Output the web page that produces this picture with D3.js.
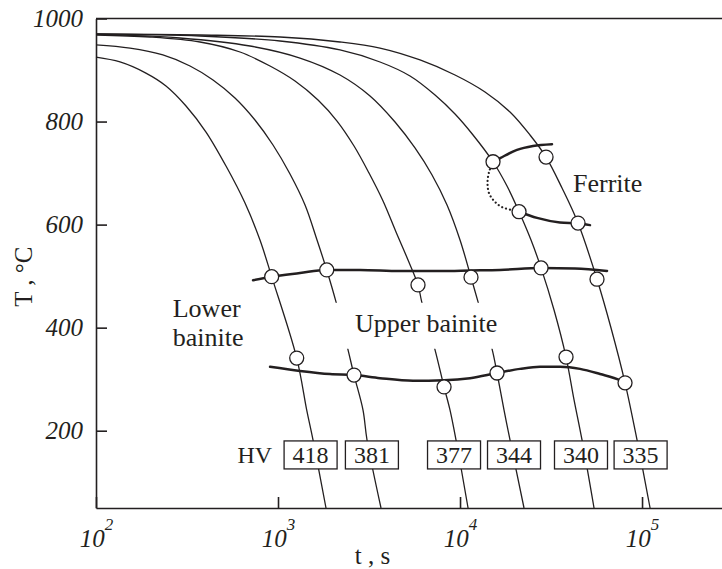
<!DOCTYPE html>
<html>
<head>
<meta charset="utf-8">
<script src="https://cdn.jsdelivr.net/npm/d3@7/dist/d3.min.js"></script>
<style>
    body { margin: 0; background: #fff; }
    svg { display: block; }
    svg text { font-family: "Liberation Serif", "Times New Roman", serif; }
    .axis text { font-size: 25px; font-style: italic; fill: #231f20; }
    .axis path, .axis line { stroke: #231f20; stroke-width: 1.6; }
</style>
</head>
<body>
<div id="chart"></div>
<script>
// Cooling curves: [time (s), temperature (°C)]
const curveA = [[100, 925], [135.5, 915.6], [188, 894], [242.4, 869], [312.3, 830.2], [402.2, 779.7], [518, 713.7], [658.7, 641.9], [796, 570], [923, 499], [1267, 341], [1438, 240], [1557, 182], [1835, 50]];
const curveB = [[100, 949], [153.8, 942.7], [233, 929.2], [328.5, 907.8], [439.4, 880.6], [580.3, 845.7], [747.3, 803], [938.6, 754.5], [1164, 698.2], [1407.5, 638], [1638, 570.1], [1852, 512], [2083, 450], [2425, 357], [2616, 308], [2931, 240], [3083, 182], [3681, 50]];
const curveC = [[100, 968], [198, 964.1], [372.8, 954.4], [618.2, 935], [903.6, 907.8], [1240, 878.7], [1659, 841.8], [2110, 801], [2616, 752.5], [3162, 700.1], [3776, 645.8], [4450, 585.6], [5180, 531.3], [5877, 483], [6160, 450], [7290, 357], [8170, 285], [8813, 240], [9506, 182], [11070, 50]];
const curveD = [[100, 969], [289.3, 962.2], [702, 946.6], [1321, 923.3], [2191, 890.3], [3203, 849.6], [4395, 799.1], [5657, 748.7], [7019, 696.3], [8485, 638], [10000, 570.1], [11490, 498], [12560, 450], [14990, 359], [15970, 312], [17450, 240], [18820, 182], [22470, 50]];
const curveE = [[100, 970], [372.8, 966], [1026, 956.3], [2191, 938.9], [3634, 915.6], [5313, 888.4], [7290, 851.5], [9387, 814.6], [11790, 773.9], [15180, 722], [18120, 674.9], [21100, 625], [24550, 570.1], [27870, 516], [32850, 434.3], [38230, 343], [42310, 260], [46810, 182], [54480, 50]];
const curveF = [[100, 970], [372.8, 968], [1026, 964.1], [2191, 954.4], [3634, 942.7], [6029, 919.5], [9387, 890.3], [13720, 857.3], [18820, 818.5], [24240, 773.9], [29690, 731], [36340, 671], [44500, 603], [56570, 494], [67560, 399.3], [80650, 293], [93870, 182], [110700, 50]];
const coolingCurves = [curveA, curveB, curveC, curveD, curveE, curveF];

// Transformation lines
const ferriteStart = [[15180, 722], [16590, 729], [20570, 745], [25180, 752.5], [32020, 756]];
const ferriteDotted = [[15180, 722], [14430, 702], [14160, 681], [14430, 661], [15380, 646], [17010, 634], [21100, 625]];
const ferriteFinish = [[21100, 625], [26500, 613], [35400, 604], [44500, 602], [51800, 599]];
const upperBainite = [[729, 492], [927, 499], [1321, 506], [1835, 512], [2821, 512], [4681, 510], [7767, 510], [11490, 511], [16590, 512], [27870, 516], [42840, 515], [64230, 510]];
const lowerBainite = [[904, 324], [1321, 316], [1931, 310], [2616, 308], [3634, 302], [5518, 297], [8170, 298], [11340, 302], [15970, 312], [21370, 320], [27520, 324], [35430, 324], [45640, 320], [58770, 310], [75690, 298], [80650, 293]];

// Measured points (circles)
const ferriteStartPts = [[15180, 722], [29690, 731]];
const ferriteFinishPts = [[21100, 625], [44500, 603]];
const upperBainitePts = [[923, 499], [1852, 512], [5877, 483], [11490, 498], [27870, 516], [56570, 494]];
const lowerBainitePts = [[1267, 341], [2616, 308], [8170, 285], [15970, 312], [38230, 343], [80650, 293]];

// Hardness
const hvValues = [418, 381, 377, 344, 340, 335];
const hvTimes = [1510, 3280, 9270, 19800, 46200, 98200];
const hvLevel = 153;

// Region labels
const regionLabels = [
    { text: "Ferrite", t: 41770, T: 663 },
    { text: "Upper bainite", t: 2649, T: 392, knockout: true },
    { text: "Lower", t: 264, T: 420 },
    { text: "bainite", t: 264, T: 365 }
];

const yTicks = [200, 400, 600, 800, 1000];
const xTicks = [1e2, 1e3, 1e4, 1e5];

function draw() {
    const ink = "#231f20";

    let dimensions = {
        width: 722,
        height: 569,
        margin: { top: 18.5, right: 0, bottom: 61, left: 96 }
    };
    dimensions.containerWidth = dimensions.width - dimensions.margin.left - dimensions.margin.right;
    dimensions.containerHeight = dimensions.height - dimensions.margin.top - dimensions.margin.bottom;

    const svg = d3.select("#chart")
        .append("svg")
        .attr("width", dimensions.width)
        .attr("height", dimensions.height);

    const container = svg.append("g")
        .attr("transform", `translate(${dimensions.margin.left}, ${dimensions.margin.top})`);

    // Scales
    const xScale = d3.scaleLog()
        .domain([1e2, 2.75e5])
        .range([0, dimensions.containerWidth]);

    const yScale = d3.scaleLinear()
        .domain([50, 1000])
        .range([dimensions.containerHeight, 0]);

    // Axes
    const yAxis = d3.axisLeft(yScale)
        .tickValues(yTicks)
        .tickSizeInner(-11)
        .tickSizeOuter(0)
        .tickPadding(13)
        .tickFormat(d3.format("d"));

    container.append("g")
        .classed("axis", true)
        .call(yAxis);

    const xAxis = d3.axisBottom(xScale)
        .tickValues(xTicks)
        .tickSizeInner(-11)
        .tickSizeOuter(0)
        .tickFormat("");

    const xAxisGroup = container.append("g")
        .classed("axis", true)
        .attr("transform", `translate(0, ${dimensions.containerHeight})`)
        .call(xAxis);

    xAxisGroup.selectAll(".tick text")
        .attr("y", 38.7)
        .attr("dy", null)
        .each(function (d) {
            const t = d3.select(this);
            t.append("tspan").text("10");
            t.append("tspan")
                .attr("dy", -16.5)
                .style("font-size", "17px")
                .text(Math.round(Math.log10(d)));
        });

    // top frame line
    container.append("line")
        .attr("x1", 0)
        .attr("x2", dimensions.containerWidth)
        .attr("y1", yScale(1000))
        .attr("y2", yScale(1000))
        .attr("stroke", ink)
        .attr("stroke-width", 1.5);

    // Axis titles
    container.append("text")
        .attr("transform", `translate(${32 - dimensions.margin.left}, ${276.7 - dimensions.margin.top}) rotate(-90)`)
        .attr("text-anchor", "middle")
        .attr("fill", ink)
        .style("font-size", "25px")
        .text("T , °C");

    container.append("text")
        .attr("x", 372.5 - dimensions.margin.left)
        .attr("y", dimensions.containerHeight + 56)
        .attr("text-anchor", "middle")
        .attr("fill", ink)
        .style("font-size", "25px")
        .text("t , s");

    // Cooling curves
    const coolLine = d3.line()
        .x(d => xScale(d[0]))
        .y(d => yScale(d[1]))
        .curve(d3.curveCatmullRom.alpha(0.5));

    container.append("g")
        .selectAll("path")
        .data(coolingCurves)
        .join("path")
        .attr("d", coolLine)
        .attr("fill", "none")
        .attr("stroke", ink)
        .attr("stroke-width", 1.3);

    // Region labels (with white knock-out where the curves are broken)
    const labels = container.append("g");
    regionLabels.forEach(l => {
        const txt = labels.append("text")
            .attr("x", xScale(l.t))
            .attr("y", yScale(l.T))
            .attr("fill", ink)
            .style("font-size", "26px")
            .text(l.text);
        if (l.knockout) {
            const bb = txt.node().getBBox();
            labels.insert("rect", "text")
                .attr("x", bb.x - 23)
                .attr("y", bb.y - 6)
                .attr("width", bb.width + 26)
                .attr("height", bb.height + 17)
                .attr("fill", "#fff");
        }
    });

    // Transformation lines
    const phaseLine = d3.line()
        .x(d => xScale(d[0]))
        .y(d => yScale(d[1]))
        .curve(d3.curveMonotoneX);

    container.append("g")
        .selectAll("path")
        .data([ferriteStart, ferriteFinish, upperBainite, lowerBainite])
        .join("path")
        .attr("d", phaseLine)
        .attr("fill", "none")
        .attr("stroke", ink)
        .attr("stroke-width", 2.5)
        .attr("stroke-linecap", "round");

    const dottedLine = d3.line()
        .x(d => xScale(d[0]))
        .y(d => yScale(d[1]))
        .curve(d3.curveCatmullRom);

    container.append("path")
        .attr("d", dottedLine(ferriteDotted))
        .attr("fill", "none")
        .attr("stroke", ink)
        .attr("stroke-width", 2.2)
        .attr("stroke-linecap", "round")
        .attr("stroke-dasharray", "0.01 4");

    // Circles
    const points = [].concat(ferriteStartPts, ferriteFinishPts, upperBainitePts, lowerBainitePts);
    container.append("g")
        .selectAll("circle")
        .data(points)
        .join("circle")
        .attr("cx", d => xScale(d[0]))
        .attr("cy", d => yScale(d[1]))
        .attr("r", 7)
        .attr("fill", "#fff")
        .attr("stroke", ink)
        .attr("stroke-width", 1.3);

    // Hardness boxes
    const boxW = 53, boxH = 28;
    const hv = container.append("g")
        .selectAll("g")
        .data(hvValues)
        .join("g")
        .attr("transform", (d, i) => `translate(${xScale(hvTimes[i])}, ${yScale(hvLevel)})`);

    hv.append("rect")
        .attr("x", -boxW / 2)
        .attr("y", -boxH / 2)
        .attr("width", boxW)
        .attr("height", boxH)
        .attr("fill", "#fff")
        .attr("stroke", ink)
        .attr("stroke-width", 1.3);

    hv.append("text")
        .attr("text-anchor", "middle")
        .attr("y", 8.5)
        .attr("fill", ink)
        .style("font-size", "24px")
        .text(d => d);

    container.append("text")
        .attr("x", xScale(hvTimes[0]) - boxW / 2 - 12)
        .attr("y", yScale(hvLevel) + 8.5)
        .attr("text-anchor", "end")
        .attr("fill", ink)
        .style("font-size", "24px")
        .text("HV");
}

draw();
</script>
</body>
</html>
